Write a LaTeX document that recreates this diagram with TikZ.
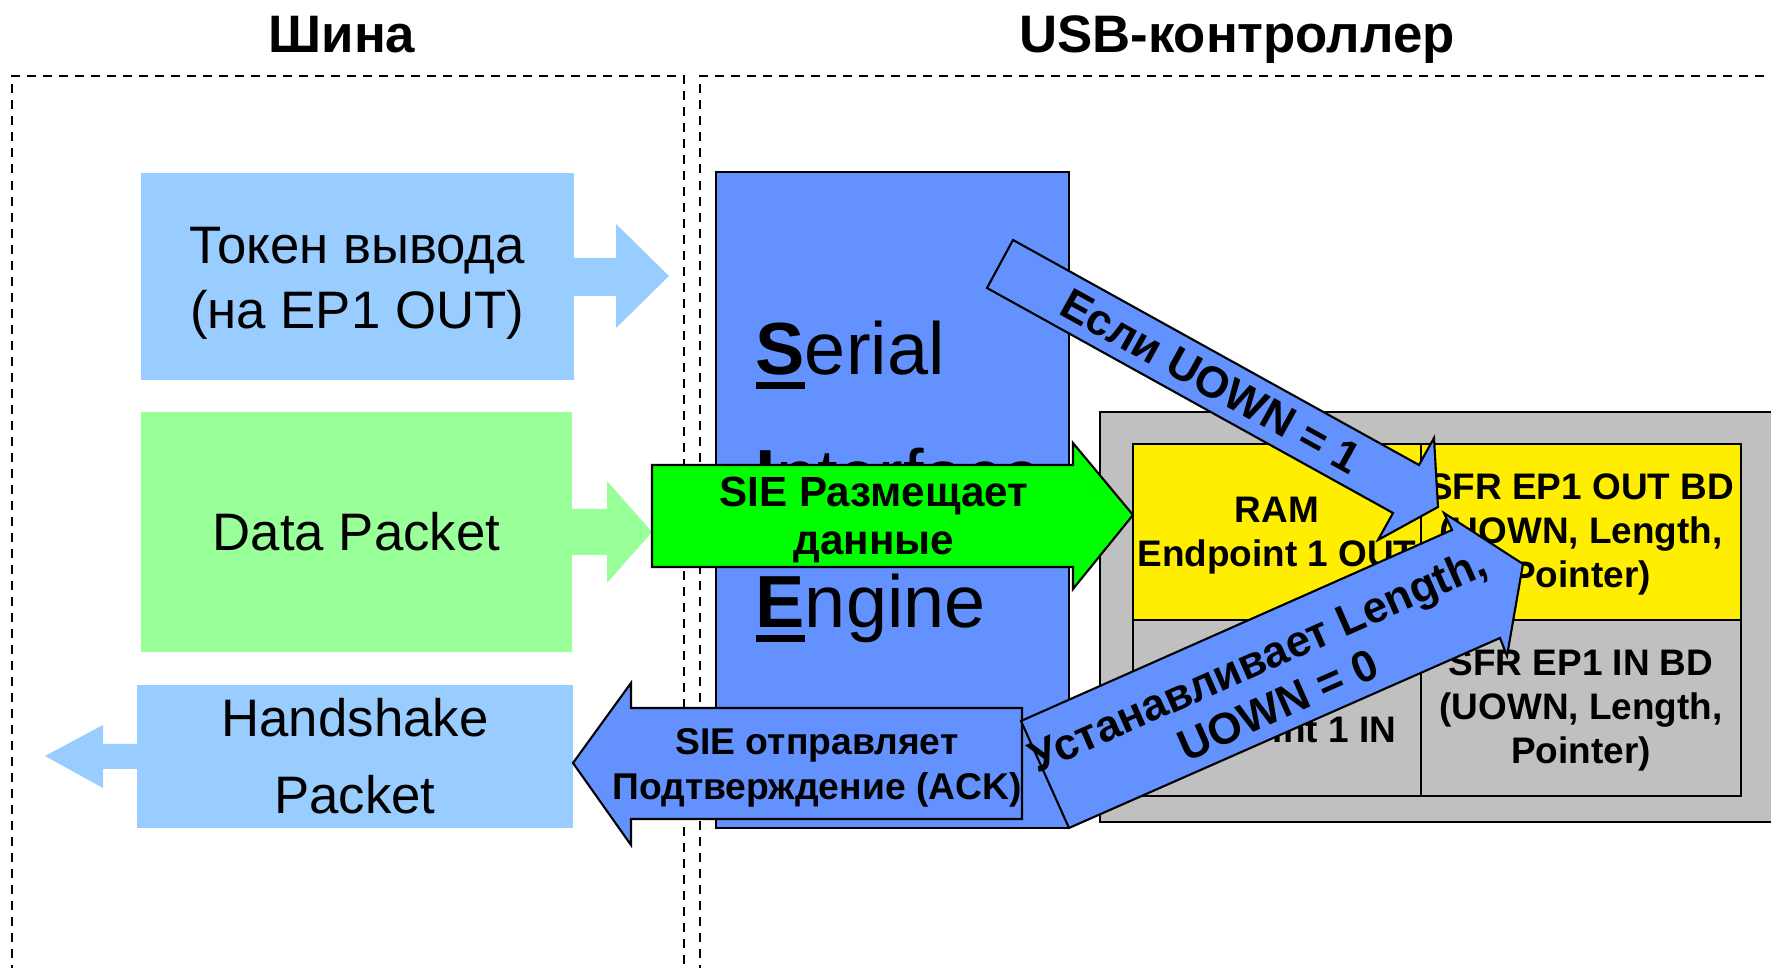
\documentclass[tikz,border=0pt]{standalone}
\usepackage{fontspec}
\setmainfont{Liberation Sans}

\definecolor{pktblue}{RGB}{153,204,255}
\definecolor{pktgreen}{RGB}{153,255,153}
\definecolor{sieblue}{RGB}{99,146,255}
\definecolor{putgreen}{RGB}{0,255,0}
\definecolor{ramyellow}{RGB}{255,238,0}
\definecolor{bdgray}{RGB}{192,192,192}

% first letter bold and underlined
\newsavebox\siebox
\newcommand{\sieword}[2]{\sbox\siebox{\bfseries #1}\rlap{\rule[-0.14cm]{\wd\siebox}{0.065cm}}\usebox\siebox#2}

\begin{document}
\begin{tikzpicture}[
    x=0.01cm, y=-0.01cm,
    zone/.style={
        draw,
        dash pattern=on 0.09cm off 0.07cm,
        line width=0.6pt
    },
    title/.style={
        anchor=base,
        inner sep=0pt,
        font=\fontsize{15}{18}\selectfont\bfseries
    },
    packet/.style={
        align=center,
        inner sep=0pt,
        font=\fontsize{15}{18.4}\selectfont
    },
    sieline/.style={
        anchor=base west,
        inner sep=0pt,
        font=\fontsize{21}{25}\selectfont
    },
    cell/.style={
        draw,
        line width=0.8pt
    },
    celltext/.style={
        align=center,
        inner sep=0pt,
        font=\fontsize{10.5}{12.5}\selectfont\bfseries
    },
    block/.style={
        draw,
        line width=0.6pt
    },
    blocktext/.style={
        align=center,
        inner sep=0pt,
        font=\fontsize{12}{13.6}\selectfont\bfseries
    }
]
    \useasboundingbox (0,0) rectangle (1771,968);
    \clip (0,0) rectangle (1771,968);

    % --- Titles ---
    \node[title] (bus) at (342,52.5) {Шина};
    \node[title] (ctrl) at (1237,52.5) {USB-контроллер};

    % --- Zones ---
    \draw[zone] (12,990) -- (12,76) -- (684,76) -- (684,990);
    \draw[zone] (700,990) -- (700,76) -- (1790,76);

    % --- Bus packets ---
    \node[fill=pktblue, minimum width=4.33cm, minimum height=2.07cm]
        (token) at (357.5,276.5) {};
    \node[packet] (tokentext) at (357,283) {Токен вывода\\(на EP1 OUT)};
    \fill[pktblue] (573,258) -- (616,258) -- (616,224) -- (669,276)
        -- (616,328) -- (616,296) -- (573,296) -- cycle;

    \node[packet, fill=pktgreen, minimum width=4.31cm, minimum height=2.40cm]
        (data) at (356.5,532) {Data Packet};
    \fill[pktgreen] (571,509) -- (607,509) -- (607,481) -- (652,532)
        -- (607,583) -- (607,555) -- (571,555) -- cycle;

    \node[packet, fill=pktblue, minimum width=4.36cm, minimum height=1.43cm,
        font=\fontsize{15}{21.9}\selectfont]
        (handshake) at (355,756.5) {Handshake\\Packet};
    \fill[pktblue] (138,744) -- (103,744) -- (103,725) -- (45,756)
        -- (103,788) -- (103,769) -- (138,769) -- cycle;

    % --- SIE ---
    \node[draw, fill=sieblue, line width=0.6pt, minimum width=3.53cm,
        minimum height=6.56cm] (sie) at (892.5,500) {};
    \node[sieline] (serial) at (755,375) {\sieword{S}{erial}};
    \node[sieline] (interface) at (755,502) {\sieword{I}{nterface}};
    \node[sieline] (engine) at (755,628) {\sieword{E}{ngine}};

    % --- Buffer descriptors ---
    \draw[cell, fill=bdgray] (1100,412) rectangle (1790,822);
    \draw[cell, fill=ramyellow] (1133,444) rectangle (1421,620);
    \draw[cell, fill=ramyellow] (1421,444) rectangle (1741,620);
    \draw[cell] (1133,620) rectangle (1421,796);
    \draw[cell] (1421,620) rectangle (1741,796);

    \node[celltext] (ramout) at (1277,535.6) {RAM\\Endpoint 1 OUT};
    \node[celltext] (bdout) at (1581,534.7) {SFR EP1 OUT BD\\(UOWN, Length,\\Pointer)};
    \node[celltext] (ramin) at (1277,711.7) {RAM\\Endpoint 1 IN};
    \node[celltext] (bdin) at (1581,710.7) {SFR EP1 IN BD\\(UOWN, Length,\\Pointer)};

    % --- Block arrows ---
    \draw[block, fill=putgreen] (652,465) -- (1073,465) -- (1073,443) -- (1133,515)
        -- (1073,589) -- (1073,567) -- (652,567) -- cycle;
    \node[blocktext] (put) at (874,520) {SIE Размещает\\данные};

    \draw[block, fill=sieblue] (1022,708) -- (631,708) -- (631,683) -- (573,763)
        -- (631,845) -- (631,819) -- (1022,819) -- cycle;
    \node[blocktext, font=\fontsize{10.6}{12.8}\selectfont\bfseries]
        (ack) at (817,768) {SIE отправляет\\Подтверждение (ACK)};

    \draw[block, fill=sieblue] (1013,240) -- (1419,465) -- (1434,438) -- (1438,507)
        -- (1378,540) -- (1393,513) -- (987,288) -- cycle;
    \node[blocktext, font=\fontsize{12.5}{14.2}\selectfont\bfseries, rotate=-29]
        (ifown) at (1211,381) {Если UOWN = 1};

    \draw[block, fill=sieblue] (1021,721) -- (1452,530) -- (1444,513) -- (1523,564)
        -- (1507,656) -- (1500,638) -- (1069,828) -- cycle;
    \node[blocktext, font=\fontsize{12.5}{14.2}\selectfont\bfseries, rotate=23.8]
        (setlen) at (1267.5,681.7) {Устанавливает Length,\\UOWN = 0};
\end{tikzpicture}
\end{document}
